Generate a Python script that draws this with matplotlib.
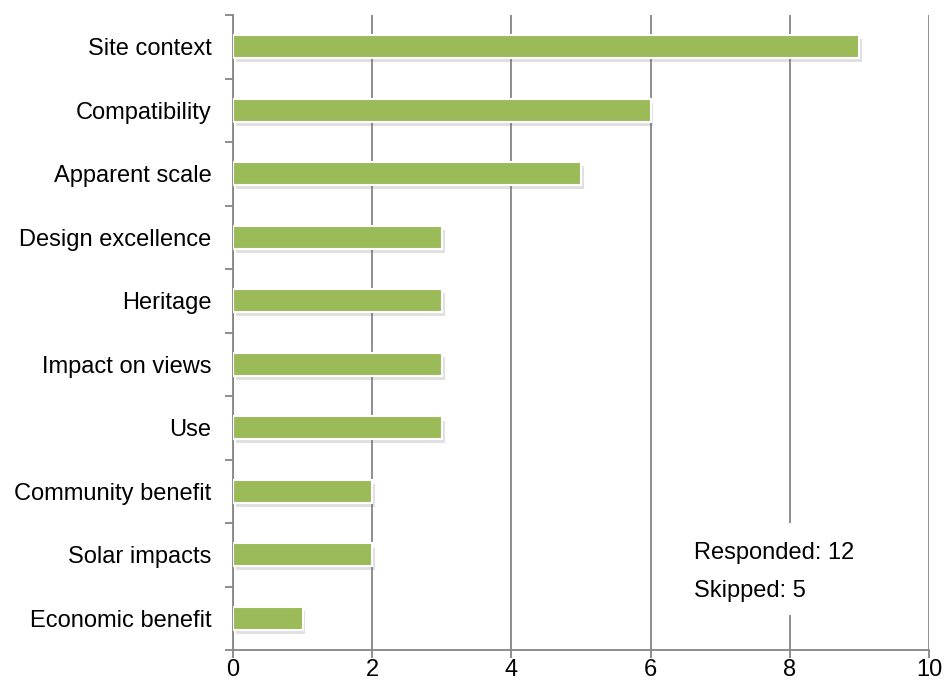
import matplotlib
matplotlib.use("Agg")
import matplotlib.pyplot as plt
import matplotlib.patheffects as pe

categories = ["Site context", "Compatibility", "Apparent scale", "Design excellence",
              "Heritage", "Impact on views", "Use", "Community benefit",
              "Solar impacts", "Economic benefit"]
counts = [9, 6, 5, 3, 3, 3, 3, 2, 2, 1]
x_ticks = [0, 2, 4, 6, 8, 10]
summary_lines = ["Responded: 12", "Skipped: 5"]

plt.rcParams["font.family"] = ["Liberation Sans", "DejaVu Sans"]
grey = "#868686"
fs = 17

fig = plt.figure(figsize=(9.44, 6.88), dpi=100)
ax = fig.add_axes([0.2468, 0.0552, 0.7373, 0.9230])

n = len(categories)
ypos = list(range(n))
bars = ax.barh(ypos, counts, height=0.36, color="#9BBB59", edgecolor="white",
               linewidth=1.5, zorder=3)
for b in bars:
    b.set_path_effects([pe.SimplePatchShadow(offset=(2, -3), alpha=0.18,
                                             shadow_rgbFace="#555555"),
                        pe.Normal()])

ax.set_ylim(n - 0.5, -0.5)
ax.set_xlim(0, 10)
ax.set_yticks(ypos)
ax.set_yticklabels(categories, fontsize=fs)
ax.tick_params(axis="y", length=0, pad=15.5)
ax.set_yticks([i - 0.5 for i in range(n + 1)], minor=True)
ax.tick_params(axis="y", which="minor", length=6, width=1.3, color=grey)

ax.set_xticks(x_ticks)
ax.set_xticklabels([str(v) for v in x_ticks], fontsize=fs)
ax.tick_params(axis="x", length=6, width=1.3, color=grey, pad=0.5)

ax.grid(axis="x", color=grey, linewidth=1.3, zorder=0)
ax.set_axisbelow(True)
for s in ["top", "right"]:
    ax.spines[s].set_visible(False)
for s in ["left", "bottom"]:
    ax.spines[s].set_color(grey)
    ax.spines[s].set_linewidth(1.3)

ax.add_patch(plt.Rectangle((6.6, 7.5), 2.3, 1.45, facecolor="white",
                           edgecolor="none", zorder=2))
ax.text(6.63, 7.97, summary_lines[0], fontsize=fs, va="center", zorder=4)
ax.text(6.63, 8.57, summary_lines[1], fontsize=fs, va="center", zorder=4)

fig.savefig("out.png", dpi=100)
